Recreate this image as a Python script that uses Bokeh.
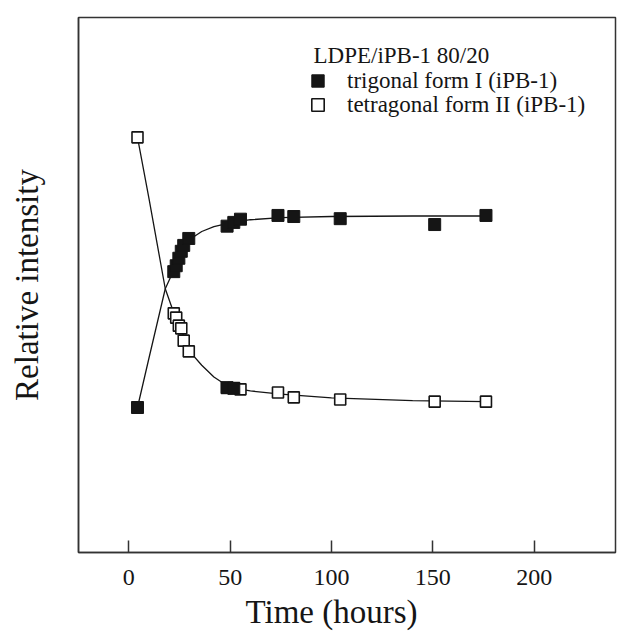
from bokeh.plotting import figure
from bokeh.models import (Range1d, FixedTicker, Legend, LegendItem, ColumnDataSource,
                          CDSView, IndexFilter, Label, Title)
from bokeh.embed import file_html
from bokeh.resources import INLINE

# ---- data ----
time_h = [4.3, 22.2, 23.4, 24.7, 25.9, 27.1, 29.6, 48.5, 51.8, 55.1, 73.6, 81.4, 104.3, 150.9, 176.2]
form1 = [27.1, 52.5, 53.6, 55.0, 56.3, 57.4, 58.7, 61.0, 61.7, 62.3, 63.0, 62.8, 62.4, 61.3, 63.0]
form2 = [77.6, 44.7, 43.9, 42.4, 41.9, 39.6, 37.6, 30.8, 30.7, 30.5, 29.9, 29.0, 28.6, 28.2, 28.2]
form2_overlap_idx = [7, 8]  # points that appear dark (overlapping markers)

fit_t = [4.3, 10, 18, 22, 26, 30, 36, 42, 50, 60, 75, 100, 140, 176.2]
fit_form1 = [27.1, 36.4, 49.3, 52.6, 56.0, 58.5, 60.0, 60.9, 61.6, 62.2, 62.6, 62.8, 62.9, 62.9]
fit_form2 = [77.6, 66.1, 49.3, 45.0, 41.5, 37.6, 35.0, 32.8, 30.8, 30.2, 29.6, 28.9, 28.4, 28.2]

x_ticks = [0, 50, 100, 150, 200]
x_title = "Time  (hours)"
y_title = "Relative intensity"
legend_title = "LDPE/iPB-1 80/20"
label1 = "trigonal form I (iPB-1)"
label2 = "tetragonal form II (iPB-1)"

FONT = "Liberation Serif"
INK = "#151515"

p = figure(width=617, height=638, output_backend="svg", toolbar_location=None,
           x_range=Range1d(-24.8, 240.1), y_range=Range1d(0, 100),
           min_border_left=78, min_border_right=2, min_border_top=17, min_border_bottom=86)
p.grid.visible = False
p.outline_line_color = "#333333"
p.outline_line_width = 1.5
p.background_fill_color = "white"
p.border_fill_color = "white"

# fitted curves
p.line(fit_t, fit_form1, line_color=INK, line_width=1.3)
p.line(fit_t, fit_form2, line_color=INK, line_width=1.3)

src2 = ColumnDataSource(dict(t=time_h, y=form2))
r2 = p.scatter("t", "y", source=src2, marker="square", size=11, fill_color="white",
               line_color=INK, line_width=1.6)
p.scatter("t", "y", source=src2, view=CDSView(filter=IndexFilter(form2_overlap_idx)),
          marker="square", size=12, fill_color=INK, line_color=INK)
r1 = p.scatter(time_h, form1, marker="square", size=12, fill_color=INK, line_color=INK)

# x axis
xa = p.xaxis[0]
xa.ticker = FixedTicker(ticks=x_ticks)
xa.major_tick_in = 12
xa.major_tick_out = 0
xa.minor_tick_in = 0
xa.minor_tick_out = 0
xa.major_tick_line_width = 1.5
xa.major_tick_line_color = "#333333"
xa.axis_line_color = "#333333"
xa.axis_line_width = 1.5
xa.major_label_text_font = FONT
xa.major_label_text_font_size = "24px"
xa.major_label_text_color = INK
xa.major_label_standoff = 17

# x title, placed under the 100 tick as in the original
p.add_layout(Title(text=x_title, align="left", offset=167, standoff=8,
                   vertical_align="bottom",
                   text_font=FONT, text_font_size="33px", text_font_style="normal",
                   text_color=INK), "below")

# y axis (no ticks)
ya = p.yaxis[0]
ya.ticker = FixedTicker(ticks=[])
ya.major_tick_in = 0
ya.major_tick_out = 0
ya.minor_tick_in = 0
ya.minor_tick_out = 0
ya.major_label_text_font_size = "0px"
ya.axis_line_color = "#333333"
ya.axis_line_width = 1.5
ya.axis_label = y_title
ya.axis_label_text_font = FONT
ya.axis_label_text_font_size = "33px"
ya.axis_label_text_font_style = "normal"
ya.axis_label_text_color = INK
ya.axis_label_standoff = 34

# legend header
p.add_layout(Label(x=235, y=497, x_units="screen", y_units="screen", text=legend_title,
                   text_font=FONT, text_font_size="23px", text_color=INK,
                   text_align="left", text_baseline="middle"))

common = dict(label_text_font=FONT, label_text_font_size="23px", label_text_color=INK,
              label_height=24, glyph_height=31, glyph_width=31, label_standoff=14,
              spacing=0, padding=0, margin=0,
              border_line_alpha=0, background_fill_alpha=0)
p.add_layout(Legend(items=[LegendItem(label=label1, renderers=[r1])],
                    location=(224, 456), **common))
p.add_layout(Legend(items=[LegendItem(label=label2, renderers=[r2])],
                    location=(224, 432), **common))

open("out.html", "w").write(file_html(p, INLINE))
